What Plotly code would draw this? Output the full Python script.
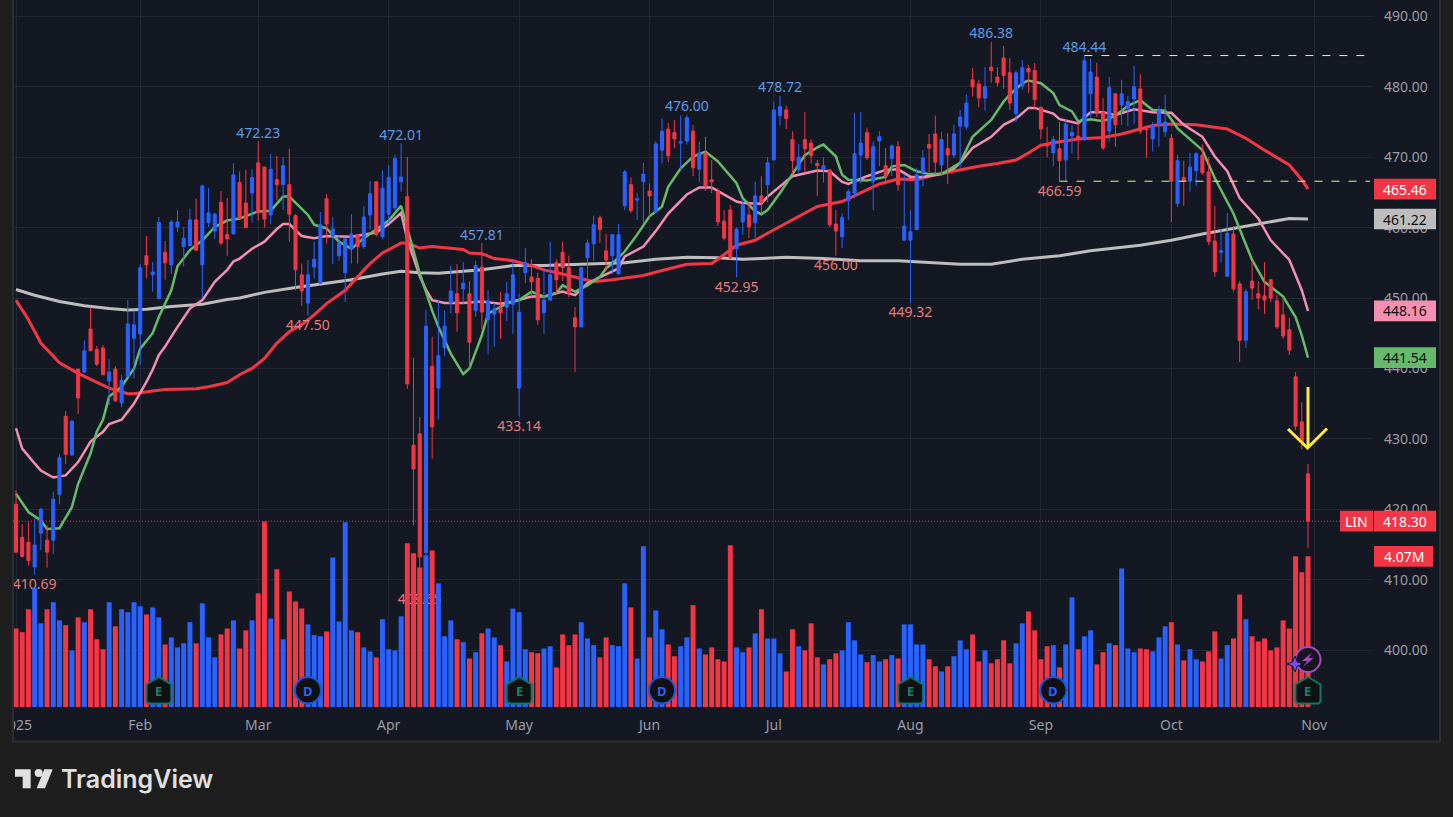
import plotly.graph_objects as go

# daily bars (index 0 = first bar of 2025)
opens = [420.7,416.0,415.3,411.8,416.6,415.6,415.6,422.1,433.2,427.7,
         439.9,439.5,445.6,442.7,442.9,438.2,439.9,435.1,438.8,444.3,
         444.9,456.0,453.3,449.9,456.5,454.7,460.1,457.3,457.4,461.1,
         454.7,460.7,459.5,463.6,459.0,459.1,466.4,463.5,464.9,469.2,
         468.6,461.8,466.8,466.1,466.1,461.7,453.3,449.3,454.4,452.1,
         464.1,458.8,456.0,453.6,457.0,459.0,457.3,461.8,466.5,458.7,
         461.9,462.8,466.5,464.4,429.1,430.7,413.8,440.3,437.2,442.9,
         449.3,450.6,451.3,450.6,448.2,454.4,446.9,447.7,448.6,448.7,
         449.1,437.2,453.6,453.0,452.8,447.9,449.7,455.0,456.5,454.3,
         447.2,445.9,455.7,457.7,461.4,456.7,456.0,453.4,463.1,466.1,
         463.9,466.5,465.2,462.2,471.0,474.0,473.5,472.0,472.3,473.7,
         468.3,470.6,466.8,465.1,460.9,462.5,457.0,460.8,461.8,460.7,
         464.5,466.1,469.6,475.9,476.7,472.5,468.2,472.5,472.0,469.1,
         468.3,468.2,460.5,458.7,463.8,464.9,470.3,473.5,466.5,472.3,
         468.8,469.8,471.5,458.2,458.2,459.7,467.8,471.8,473.3,468.9,
         471.2,470.3,474.4,474.3,481.0,480.4,478.4,482.8,481.4,484.1,
         482.0,476.2,480.1,482.6,482.3,477.1,471.9,470.6,471.2,469.6,
         473.0,473.0,472.6,479.0,481.4,476.4,473.7,479.0,477.4,476.9,
         478.3,479.7,474.0,472.6,474.6,473.6,472.7,463.4,467.1,466.6,
         468.1,470.3,467.9,458.1,456.5,453.1,459.1,452.0,444.0,452.4,
         450.6,450.3,452.6,449.6,447.6,445.5,438.8,432.4,425.0]
highs = [422.7,417.9,418.2,418.7,420.2,417.7,422.5,427.8,433.9,432.7,
         439.9,444.0,448.7,443.2,443.3,441.3,440.3,439.1,449.7,448.2,
         454.8,458.8,455.1,461.5,458.1,461.1,462.5,460.1,462.7,464.1,
         466.1,465.6,462.1,465.2,464.2,469.1,468.0,468.2,468.3,472.23,
         468.6,470.5,470.2,470.0,471.2,461.9,454.9,455.4,458.0,462.2,
         464.8,461.5,459.0,458.4,461.9,459.0,463.1,466.6,466.6,468.1,
         468.9,470.3,472.01,470.05,441.5,433.1,448.3,444.5,449.6,448.2,
         454.6,454.8,455.1,452.4,455.3,457.81,451.1,449.3,450.9,452.3,
         455.3,450.6,457.1,455.5,453.6,454.3,458.0,455.5,458.0,456.0,
         448.7,454.3,458.3,461.7,461.7,459.1,459.1,460.5,468.2,467.1,
         464.9,469.2,466.3,472.3,475.5,474.9,475.3,475.9,476.0,474.6,
         472.2,472.9,469.6,465.6,462.5,463.2,460.0,463.9,463.8,466.5,
         467.3,470.0,477.9,478.72,477.3,473.7,471.9,476.4,472.5,469.6,
         470.0,468.2,462.5,462.0,465.5,476.3,476.4,474.2,472.2,473.7,
         471.3,471.8,472.3,467.6,462.5,468.5,471.0,473.3,475.9,473.6,
         473.4,474.6,476.7,478.9,482.7,481.0,482.8,486.38,482.8,485.8,
         484.1,482.3,483.8,483.1,483.4,477.1,474.3,473.0,475.0,475.3,
         474.6,474.9,484.44,484.0,483.4,478.4,481.4,479.1,481.0,478.7,
         483.0,481.8,474.5,475.0,477.3,478.9,473.3,470.3,469.5,470.6,
         470.7,471.8,470.0,463.1,459.8,462.1,460.2,452.4,451.3,455.3,
         452.4,455.1,452.7,450.4,450.1,447.2,439.5,435.2,426.4]
lows = [413.8,413.1,412.0,410.69,414.2,411.7,413.6,420.7,426.4,427.6,
        433.5,439.3,442.5,440.3,439.1,434.8,435.2,434.5,438.8,438.6,
        440.5,452.8,450.9,449.9,452.6,453.4,459.4,454.5,457.4,456.7,
        450.0,460.1,458.4,457.5,456.0,459.1,461.3,459.9,460.7,461.0,
        460.0,460.5,463.9,462.5,458.0,451.1,448.9,447.5,452.8,452.0,
        457.7,454.8,455.3,449.4,454.9,454.9,457.0,459.7,458.8,458.4,
        460.6,462.5,465.1,437.1,417.7,408.65,413.0,427.1,432.7,441.8,
        447.8,445.2,449.2,440.0,447.3,445.5,442.0,443.1,444.2,446.7,
        444.9,433.14,452.1,450.2,446.2,444.9,449.6,450.6,452.4,450.1,
        439.5,445.9,452.3,455.3,457.8,453.8,453.4,453.4,462.5,462.1,
        461.1,460.7,461.4,462.1,469.1,469.3,471.3,468.2,471.8,467.3,
        466.5,465.2,464.9,460.2,458.2,455.5,452.95,459.0,458.5,458.5,
        461.9,463.6,469.6,474.5,474.0,467.6,467.8,467.8,469.1,464.5,
        466.4,460.1,456.0,457.1,461.1,464.2,466.3,469.6,462.5,468.7,
        466.1,467.3,465.2,458.2,449.32,459.7,465.9,467.9,467.6,467.5,
        466.2,469.9,468.5,473.9,478.6,477.1,476.6,480.6,480.1,479.7,
        476.7,475.0,479.6,479.1,476.9,472.6,470.0,468.7,466.59,466.6,
        470.5,469.6,472.3,475.7,475.7,471.0,472.2,471.5,474.6,474.4,
        474.7,473.3,469.9,470.8,471.5,472.9,460.8,462.9,463.1,465.1,
        465.9,467.5,457.5,453.0,455.0,453.1,450.9,440.9,442.9,449.7,
        448.4,447.7,449.4,445.6,444.2,441.9,431.2,428.5,414.5]
closes = [413.9,413.3,412.7,414.9,420.0,413.9,421.4,427.3,427.8,432.5,
          435.8,442.5,442.5,440.6,439.1,439.5,435.4,438.3,446.3,446.2,
          454.3,454.7,453.7,460.7,455.0,460.8,460.8,458.5,461.1,456.8,
          465.9,462.1,461.9,457.8,458.4,467.5,461.3,460.0,467.1,462.1,
          461.2,468.3,466.1,468.8,461.9,454.0,451.0,453.3,455.5,460.4,
          460.5,459.8,457.8,458.4,459.1,457.3,461.5,464.8,459.0,465.6,
          467.1,469.8,467.2,437.8,425.7,413.2,446.0,431.7,441.8,446.0,
          451.0,447.9,452.1,443.7,454.6,448.0,449.6,448.4,447.9,450.6,
          453.3,448.0,455.0,452.3,446.9,449.7,453.3,452.6,454.3,450.7,
          445.9,454.3,457.8,460.4,459.7,455.4,459.0,459.0,467.9,462.4,
          464.1,467.6,464.5,471.9,473.7,470.2,472.6,472.2,475.6,468.5,
          470.6,465.9,466.5,460.8,458.5,455.7,459.8,463.2,460.1,464.5,
          463.6,469.2,476.7,477.2,475.5,469.5,470.0,471.2,470.2,468.8,
          468.8,460.4,459.5,461.4,465.1,470.5,472.0,469.9,471.5,472.9,
          467.3,471.6,466.1,460.2,459.4,467.5,469.9,471.3,469.3,472.5,
          470.3,473.3,475.7,477.7,480.0,478.4,480.0,482.3,480.6,481.6,
          477.7,482.0,482.7,482.1,478.2,474.0,471.6,472.5,469.5,474.7,
          473.5,472.6,483.7,482.1,476.4,471.3,479.9,474.6,479.0,477.9,
          480.0,473.7,473.9,474.5,476.6,475.0,466.6,469.5,466.6,468.6,
          470.5,467.8,458.0,453.7,456.7,459.2,451.3,444.0,450.9,451.4,
          450.0,449.7,450.0,445.9,444.6,442.6,431.8,429.5,418.3]
# volume in millions
volumes = [2.12,2.02,2.64,3.21,2.26,2.64,2.83,2.34,2.21,1.53,
           2.42,2.29,2.64,1.83,1.56,2.83,2.18,2.64,2.56,2.83,
           2.72,2.50,2.69,2.42,1.69,1.88,1.61,1.72,2.29,1.72,
           2.80,1.88,1.34,1.96,2.12,2.34,1.58,2.07,2.34,3.07,
           5.01,2.39,3.72,1.83,3.12,2.85,2.66,2.23,1.94,1.91,
           2.04,4.04,2.31,4.99,2.07,2.02,1.61,1.50,1.34,2.37,
           1.56,1.53,2.45,4.42,4.15,3.77,4.10,4.23,3.34,1.91,
           2.34,1.83,1.75,1.31,1.48,1.99,2.12,1.88,1.67,1.23,
           2.66,2.56,1.56,1.48,1.45,1.58,1.64,1.07,1.96,1.67,
           1.96,2.29,1.85,1.67,1.34,1.88,1.67,1.64,3.34,2.69,
           1.31,4.34,1.88,2.61,2.10,1.69,1.37,1.64,1.88,2.75,
           1.58,1.42,1.61,1.29,1.23,4.37,1.61,1.48,1.61,1.99,
           2.64,1.85,1.85,1.45,0.96,2.10,1.64,1.53,2.26,1.34,
           1.15,1.29,1.45,1.53,2.29,1.80,1.42,1.21,1.40,1.23,
           1.29,1.40,1.31,2.23,2.23,1.69,1.69,1.29,1.10,0.96,
           1.10,1.37,1.80,1.56,1.96,1.23,1.53,1.18,1.29,1.80,
           1.18,1.72,2.26,2.58,2.07,1.29,1.64,1.67,1.07,1.69,
           2.96,1.56,1.91,2.07,1.15,1.48,1.72,1.67,3.74,1.58,
           1.48,1.58,1.56,1.50,1.88,2.18,2.29,1.69,1.26,1.56,
           1.29,1.23,1.50,2.04,1.31,1.67,1.85,3.04,2.37,1.91,
           1.77,1.85,1.53,1.61,2.34,2.12,4.07,3.64,4.07]

# moving averages, read at the bar positions below
green_idx = [0,2,4,5,7,9,10,12,13,14,15,17,19,20,22,23,25,26,28,30,32,34,36,39,41,43,44,47,48,50,52,54,56,58,60,62,63,65,67,68,70,72,73,75,
             76,79,81,83,85,87,88,90,92,94,95,96,98,100,102,104,105,107,109,111,113,
             116,117,119,120,121,123,125,127,129,130,132,133,134,137,140,141,143,145,147,149,152,
             154,157,159,160,162,163,165,167,168,170,171,173,175,177,179,181,183,185,187,191,193,196,197,199,201,204,206,207,208]
green_val = [422.2,419.6,418.4,417.2,417.3,420.3,423.6,427.9,431.0,432.7,436.0,437.4,440.0,442.8,445.0,447.3,451.1,454.5,456.8,458.2,460.1,461.0,461.3,462.3,462.4,464.4,464.4,461.8,460.4,459.9,458.0,457.0,458.5,459.7,461.0,463.1,460.0,453.5,448.2,445.9,442.1,439.2,440.0,444.7,
             447.8,449.2,449.7,450.9,450.2,450.7,451.8,450.9,451.8,453.0,454.2,454.9,456.6,459.0,461.6,463.0,465.8,468.4,470.1,470.8,469.4,
             466.3,464.2,462.3,461.9,462.5,464.9,467.7,470.3,471.4,471.8,470.1,467.5,466.8,466.7,467.2,468.7,468.9,468.0,467.6,467.6,469.2,
             472.9,475.3,477.9,478.9,480.5,480.9,480.5,479.1,477.4,476.5,475.1,475.4,475.1,475.9,477.3,478.1,476.7,476.6,474.1,471.0,467.0,462.0,459.7,455.4,452.3,450.2,447.3,444.7,441.54]
pink_idx = [0,1,3,4,6,8,10,12,14,15,17,19,21,22,23,24,26,28,30,32,34,35,36,38,40,42,43,44,46,48,50,54,58,60,62,63,65,66,67,69,72,75,
            78,80,83,85,88,90,92,95,97,98,101,103,105,108,110,112,113,
            116,117,120,121,124,125,129,131,133,134,137,140,142,144,146,149,151,152,
            154,157,159,161,163,164,167,168,171,173,175,177,180,183,186,188,191,193,195,197,200,202,205,207,208]
pink_val = [431.5,428.6,426.5,425.5,424.5,424.8,426.7,429.6,431.0,432.1,432.7,435.0,438.1,439.8,441.9,443.1,445.9,448.5,449.7,452.3,454.0,455.2,455.6,457.0,458.0,459.8,460.5,460.5,458.8,458.5,458.8,458.7,459.3,460.5,462.1,458.3,453.1,451.2,449.7,449.3,449.3,449.5,
            449.2,449.5,450.2,450.2,450.9,450.4,452.1,453.3,454.2,455.9,457.3,459.5,462.0,464.7,465.7,465.7,465.2,
            463.7,463.5,463.4,464.4,466.5,467.3,468.1,468.0,466.5,466.2,467.3,468.2,468.3,467.2,467.2,467.6,468.4,469.2,
            471.3,472.9,474.6,475.5,477.0,477.0,476.2,475.4,474.8,476.4,476.4,476.0,476.8,476.4,476.3,474.6,472.9,470.1,468.0,464.2,461.3,458.2,455.4,451.1,448.16]
red_idx = [0,2,4,7,10,13,15,18,19,22,24,29,31,34,36,38,40,42,44,46,48,50,53,55,57,59,62,63,65,67,72,73,75,
           77,80,83,85,88,91,93,96,98,101,104,106,108,112,113,
           116,119,121,124,127,129,133,136,139,142,145,148,152,
           155,158,161,163,165,168,171,175,178,181,183,186,190,195,198,201,205,207,208]
red_val = [449.7,446.9,443.6,440.8,439.3,438.1,437.2,436.4,436.4,436.8,437.0,437.1,437.4,438.0,439.1,440.0,441.4,443.6,445.2,446.2,447.6,449.2,451.1,453.0,454.9,456.4,457.8,457.8,457.1,457.3,456.9,456.4,456.3,
           455.6,455.3,454.6,454.0,453.4,452.7,452.3,452.6,452.8,453.2,453.9,454.3,454.8,454.9,455.5,
           457.5,458.2,459.2,460.6,462.0,463.0,463.7,464.9,466.2,466.9,466.8,467.5,468.2,
           468.7,469.1,469.6,470.6,471.7,472.2,472.6,472.8,473.3,474.0,474.5,474.7,474.6,474.0,472.7,471.0,468.9,466.8,465.46]
white_idx = [0,3,7,11,15,18,21,25,30,34,36,40,45,50,54,59,62,65,68,75,80,85,93,98,103,108,113,117,120,124,130,136,142,147,152,157,162,168,173,181,186,191,196,200,205,208]
white_val = [451.2,450.4,449.5,448.9,448.5,448.3,448.4,448.8,449.1,449.8,450.0,450.8,451.5,452.1,452.6,453.4,453.8,453.6,453.5,454.0,454.6,454.6,454.8,455.0,455.5,455.8,455.7,455.5,455.6,455.8,455.6,455.3,455.3,455.1,454.8,454.8,455.5,456.0,456.7,457.5,458.2,459.1,459.9,460.6,461.3,461.22]

month_ticks = [0,20,39,60,81,102,122,144,165,186,209]
month_labels = ["2025","Feb","Mar","Apr","May","Jun","Jul","Aug","Sep","Oct","Nov"]
price_ticks = [400,410,420,430,440,450,460,470,480,490]

high_marks = [39,62,75,108,123,157,172]
low_marks = [3,47,65,81,116,132,144,168]
earnings_bars = [23,81,144,208]
dividend_bars = [47,104,167]

# TradingView colours
UP = "#2962ff"
DOWN = "#f23645"
GRID = "#232732"
PANEL = "#141823"
OUTER = "#1e1e1e"
YELLOW = "#ffeb3b"
AXIS_TEXT = "#9a9da5"
FONT = "Noto Sans"

# pixel layout of the shot
PLOT_L, PLOT_R, PLOT_B = 13, 1372, 707
BAR0, STEP = 16, 6.2115


def xp(x):
    return (x - PLOT_L) / (PLOT_R - PLOT_L)


def yp(y):
    return (PLOT_B - y) / PLOT_B


def bar_px(i):
    return BAR0 + STEP * i


def poly(points):
    return "M" + " L".join(f"{xp(x):.5f},{yp(y):.5f}" for x, y in points) + " Z"


x_range = [(PLOT_L - BAR0) / STEP, (PLOT_R - BAR0) / STEP]
price_range = [400 + (650 - PLOT_B) / 7.04, 400 + 650 / 7.04]
volume_range = [0, PLOT_B * 4.07 / 150.7]
bars = list(range(len(closes)))

fig = go.Figure()

# moving averages sit under the candles
for ix, vals, col, w in [(white_idx, white_val, "#bdbdbd", 3), (red_idx, red_val, DOWN, 3),
                         (pink_idx, pink_val, "#f48fb1", 2.5), (green_idx, green_val, "#66bb6a", 2.5)]:
    fig.add_trace(go.Scatter(x=ix, y=vals, mode="lines", line=dict(color=col, width=w), hoverinfo="skip", yaxis="y"))

fig.add_trace(go.Candlestick(
    x=bars, open=opens, high=highs, low=lows, close=closes, yaxis="y2", whiskerwidth=0,
    increasing=dict(line=dict(color=UP, width=1), fillcolor=UP),
    decreasing=dict(line=dict(color=DOWN, width=1), fillcolor=DOWN),
))

fig.add_trace(go.Scatter(
    x=high_marks, y=[highs[i] for i in high_marks], text=[f"{highs[i]:.2f}" for i in high_marks],
    mode="text", textposition="top center", yaxis="y2", hoverinfo="skip",
    textfont=dict(family=FONT, size=14, color="#5a9be8"),
))
# the invisible marker only pushes the text a little further off the wick
fig.add_trace(go.Scatter(
    x=low_marks, y=[lows[i] for i in low_marks], text=[f"{lows[i]:.2f}" for i in low_marks],
    mode="markers+text", textposition="bottom center", yaxis="y2", hoverinfo="skip",
    marker=dict(size=5, opacity=0),
    textfont=dict(family=FONT, size=14, color="#e57b7b"),
))

fig.add_trace(go.Bar(
    x=bars, y=volumes, width=0.8, yaxis="y3", hoverinfo="skip",
    marker=dict(color=[UP if c >= o else DOWN for o, c in zip(opens, closes)], line=dict(width=0)),
))

shapes = [
    # panel behind the plot and the axis strips
    dict(type="rect", xref="paper", yref="paper", x0=xp(13), x1=xp(1440), y0=yp(741.5), y1=yp(-2),
         fillcolor=PANEL, line=dict(color="#2b2d33", width=2), layer="below"),
    # left edge clips the "2025" label
    dict(type="rect", xref="paper", yref="paper", x0=xp(0), x1=xp(12), y0=yp(741), y1=yp(-2),
         fillcolor=OUTER, line=dict(width=0)),
    dict(type="line", xref="paper", yref="paper", x0=xp(13), x1=xp(13), y0=yp(742), y1=yp(0),
         line=dict(color="#2b2d33", width=2)),
    # levels
    dict(type="line", xref="x", yref="y", x0=172, x1=(1370 - BAR0) / STEP, y0=highs[172], y1=highs[172],
         line=dict(color="#fff176", width=1, dash="8px,9px")),
    dict(type="line", xref="x", yref="y", x0=168, x1=(1370 - BAR0) / STEP, y0=lows[168], y1=lows[168],
         line=dict(color="#fff176", width=1, dash="8px,9px")),
    # last price
    dict(type="line", xref="paper", yref="y", x0=0, x1=xp(1340), y0=closes[-1], y1=closes[-1],
         line=dict(color=DOWN, width=1, dash="1px,2px")),
    # hand drawn arrow
    dict(type="path", xref="paper", yref="paper", path=f"M{xp(1308)},{yp(387)} L{xp(1308)},{yp(448)}",
         line=dict(color=YELLOW, width=3)),
    dict(type="path", xref="paper", yref="paper",
         path=f"M{xp(1288)},{yp(429)} L{xp(1307.5)},{yp(448)} L{xp(1327)},{yp(428.5)}",
         line=dict(color=YELLOW, width=3)),
]

annotations = []


def note(text, x, y, font, yref="paper", xanchor="center"):
    annotations.append(dict(text=text, xref="paper", yref=yref, x=x, y=y, showarrow=False,
                            xanchor=xanchor, yanchor="middle", font=font))


def badge(text, y_value, fill, ink, yref="y", half=1.47, x0=1374, x1=1436):
    shapes.append(dict(type="rect", xref="paper", yref=yref, x0=xp(x0), x1=xp(x1),
                       y0=y_value - half, y1=y_value + half, fillcolor=fill, line=dict(width=0)))
    note(text, xp((x0 + x1) / 2), y_value, dict(family=FONT, size=14, color=ink), yref=yref)


badge("465.46", red_val[-1], DOWN, "#ffffff")
badge("461.22", white_val[-1], "#bdbdbd", "#111111")
badge("448.16", pink_val[-1], "#f48fb1", "#111111")
badge("441.54", green_val[-1], "#66bb6a", "#111111")
badge("418.30", closes[-1], DOWN, "#ffffff")
badge("LIN", closes[-1], DOWN, "#ffffff", x0=1340, x1=1373)
badge("4.07M", volumes[-1], DOWN, "#ffffff", yref="y3", half=0.28, x1=1433)

# earnings and dividend flags along the bottom
for i in earnings_bars:
    c = bar_px(i)
    shapes.append(dict(type="path", xref="paper", yref="paper",
                       path=poly([(c, 677), (c + 12.5, 684.5), (c + 12.5, 701.5), (c + 10.5, 703.5),
                                  (c - 10.5, 703.5), (c - 12.5, 701.5), (c - 12.5, 684.5)]),
                       fillcolor="#0f1114", line=dict(color="#0c7a64", width=2)))
    note("<b>E</b>", xp(c), yp(691), dict(family=FONT, size=13, color="#0c8a70"))
for i in dividend_bars:
    c = bar_px(i)
    shapes.append(dict(type="circle", xref="paper", yref="paper", x0=xp(c - 13), x1=xp(c + 13),
                       y0=yp(703.5), y1=yp(677), fillcolor="#0f1114", line=dict(color="#1f55d8", width=2)))
    note("<b>D</b>", xp(c), yp(690.5), dict(family=FONT, size=13, color="#2962ff"))

# news flash and star above the last earnings flag
c = bar_px(208)
shapes.append(dict(type="circle", xref="paper", yref="paper", x0=xp(c - 12.5), x1=xp(c + 12.5),
                   y0=yp(672), y1=yp(647), fillcolor="#17141f", line=dict(color="#a64bc0", width=2)))
shapes.append(dict(type="path", xref="paper", yref="paper", fillcolor="#a64bc0", line=dict(width=0),
                   path=poly([(c + 4, 652.5), (c - 6, 661), (c - 0.5, 661), (c - 5, 667),
                              (c + 5.5, 658), (c + 0.5, 658)])))
s, t = c - 13, 664
shapes.append(dict(type="path", xref="paper", yref="paper", fillcolor="#7c4dff", line=dict(color="#141823", width=1),
                   path=poly([(s, t - 8), (s + 2.2, t - 2.2), (s + 8, t), (s + 2.2, t + 2.2),
                              (s, t + 8), (s - 2.2, t + 2.2), (s - 8, t), (s - 2.2, t - 2.2)])))

# TradingView logo
for pts in [[(15, 769.3), (30.7, 769.3), (30.7, 788.3), (22.7, 788.3), (22.7, 776.7), (15, 776.7)],
            [(52.7, 769.3), (45, 788.3), (36.7, 788.3), (44.3, 769.3)]]:
    shapes.append(dict(type="path", xref="paper", yref="paper", path=poly(pts), fillcolor="#e0e0e0", line=dict(width=0)))
shapes.append(dict(type="circle", xref="paper", yref="paper", x0=xp(34.7), x1=xp(42.7), y0=yp(777), y1=yp(769),
                   fillcolor="#e0e0e0", line=dict(width=0)))
note("TradingView", xp(59), yp(779), dict(family="Inter", size=25, color="#e0e0e0", weight=600), xanchor="left")

fig.update_layout(
    width=1453, height=817, showlegend=False,
    margin=dict(l=PLOT_L, r=1453 - PLOT_R, t=0, b=817 - PLOT_B, pad=0),
    paper_bgcolor=OUTER, plot_bgcolor=PANEL, boxgap=0.3,
    xaxis=dict(range=x_range, tickvals=month_ticks, ticktext=month_labels, rangeslider=dict(visible=False),
               gridcolor=GRID, gridwidth=1, zeroline=False, showline=False, ticks="", ticklabeloverflow="allow",
               tickfont=dict(family=FONT, size=14, color=AXIS_TEXT), ticklabelstandoff=8),
    yaxis=dict(range=price_range, side="right", tickvals=price_ticks, tickformat=".2f",
               gridcolor=GRID, gridwidth=1, zeroline=False, showline=False, ticks="",
               tickfont=dict(family=FONT, size=14, color=AXIS_TEXT), ticklabelstandoff=11),
    yaxis2=dict(range=price_range, overlaying="y", visible=False),
    yaxis3=dict(range=volume_range, overlaying="y", visible=False),
    shapes=shapes, annotations=annotations,
)

fig.write_html("out.html", config=dict(displayModeBar=False), post_script="document.body.style.margin='0';")
